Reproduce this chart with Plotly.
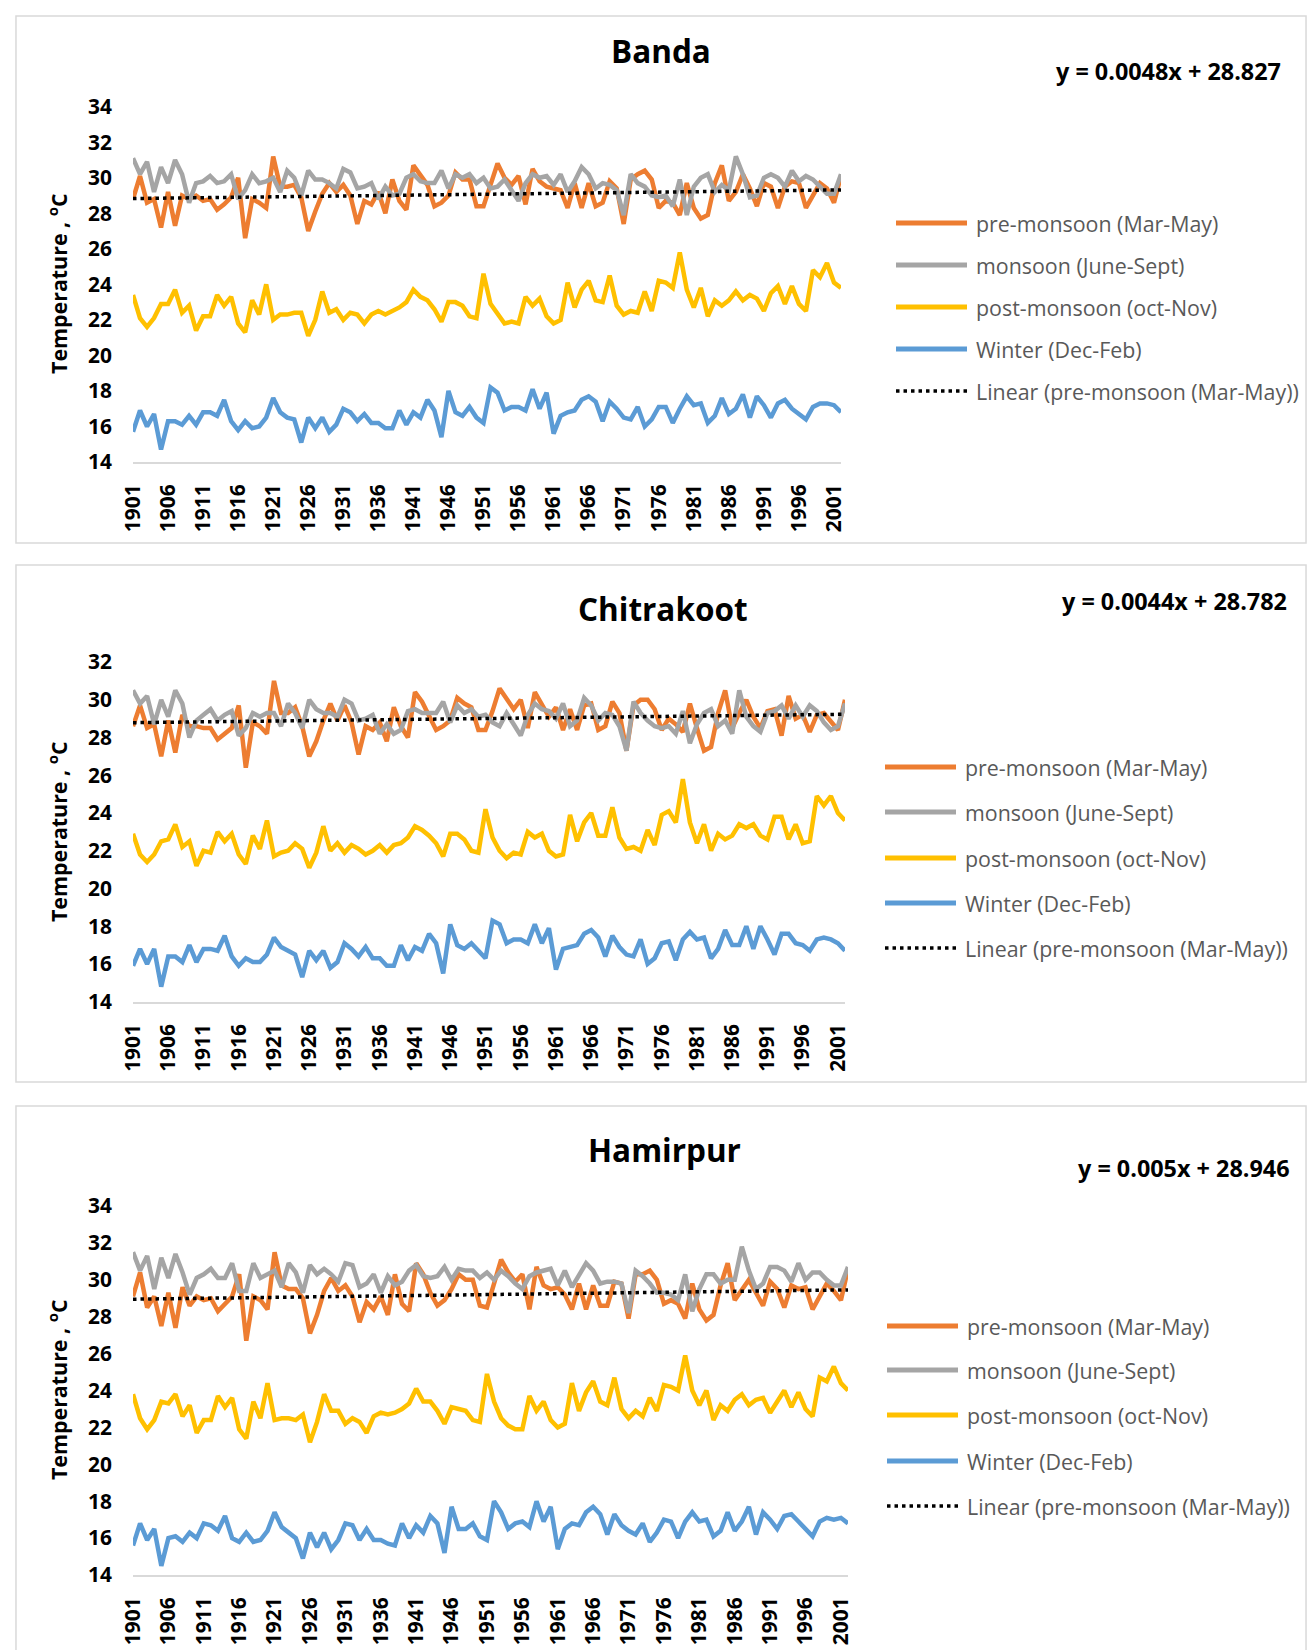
import plotly.graph_objects as go

W, H = 1313, 1650

years = list(range(1901, 2003))
x_tick_years = list(range(1901, 2002, 5))
x_tick_text = [str(y) for y in x_tick_years]

districts = ["Banda", "Chitrakoot", "Hamirpur"]
series_names = ["pre-monsoon (Mar-May)", "monsoon (June-Sept)",
                "post-monsoon (oct-Nov)", "Winter (Dec-Feb)"]
trend_name = "Linear (pre-monsoon (Mar-May))"
trend_slope = [0.0048, 0.0044, 0.005]
trend_intercept = [28.827, 28.782, 28.946]
y_tick_vals = [list(range(14, 35, 2)), list(range(14, 33, 2)), list(range(14, 35, 2))]

# ---------------- Banda ----------------
banda_pre = [28.8, 30.1, 28.6, 28.8, 27.2, 29.2, 27.3, 29.0, 28.8, 29.0,
             28.7, 28.8, 28.2, 28.5, 28.9, 30.0, 26.6, 28.8, 28.6, 28.3,
             31.2, 29.5, 29.5, 29.6, 28.9, 27.0, 28.1, 29.1, 29.7, 29.2,
             29.6, 29.0, 27.4, 28.7, 28.5, 29.2, 28.0, 29.9, 28.7, 28.2,
             30.7, 30.2, 29.6, 28.4, 28.6, 29.0, 30.3, 29.9, 29.9, 28.4,
             28.4, 29.6, 30.8, 30.0, 29.6, 30.1, 28.5, 30.5, 29.8, 29.5,
             29.4, 29.3, 28.3, 29.7, 28.3, 29.7, 28.4, 28.6, 29.8, 29.4,
             27.4, 29.9, 30.2, 30.4, 29.9, 28.3, 28.7, 28.6, 27.9, 29.7,
             28.3, 27.7, 27.9, 29.7, 30.7, 28.7, 29.2, 30.2, 29.4, 28.4,
             29.7, 29.5, 28.3, 29.5, 29.8, 29.7, 28.3, 29.0, 29.7, 29.4,
             28.6, 30.1]
banda_mon = [31.1, 30.2, 30.9, 29.2, 30.6, 29.7, 31.0, 30.2, 28.6, 29.7,
             29.8, 30.1, 29.7, 29.8, 30.2, 28.8, 29.3, 30.2, 29.7, 29.8,
             30.0, 29.2, 30.4, 30.0, 29.0, 30.4, 29.9, 29.9, 29.7, 29.4,
             30.5, 30.3, 29.4, 29.5, 29.7, 28.8, 29.5, 29.0, 29.1, 30.0,
             30.2, 29.8, 29.7, 29.7, 30.4, 29.4, 30.2, 30.0, 30.2, 29.7,
             30.0, 29.4, 29.5, 29.9, 29.3, 28.7, 29.7, 30.2, 30.0, 30.1,
             29.6, 30.2, 29.2, 29.8, 30.6, 30.2, 29.4, 29.7, 29.6, 29.3,
             27.9, 30.2, 29.7, 29.5, 29.0, 28.9, 29.0, 28.4, 29.9, 27.9,
             29.5, 30.0, 30.2, 29.2, 29.6, 29.3, 31.2, 30.2, 28.9, 29.0,
             30.0, 30.2, 30.0, 29.5, 30.4, 29.8, 30.1, 29.9, 29.5, 29.1,
             29.1, 30.2]
banda_post = [23.4, 22.1, 21.6, 22.1, 22.9, 22.9, 23.7, 22.4, 22.8, 21.4,
              22.2, 22.2, 23.4, 22.8, 23.3, 21.8, 21.3, 23.1, 22.3, 24.0,
              22.0, 22.3, 22.3, 22.4, 22.4, 21.1, 22.0, 23.6, 22.4, 22.6,
              22.0, 22.4, 22.3, 21.8, 22.3, 22.5, 22.3, 22.5, 22.7, 23.0,
              23.7, 23.3, 23.1, 22.6, 21.9, 23.0, 23.0, 22.8, 22.2, 22.1,
              24.6, 22.9, 22.3, 21.8, 21.9, 21.8, 23.3, 22.8, 23.2, 22.2,
              21.8, 22.0, 24.1, 22.7, 23.7, 24.2, 23.1, 23.0, 24.5, 22.8,
              22.3, 22.5, 22.4, 23.6, 22.5, 24.2, 24.1, 23.8, 25.8, 23.7,
              22.7, 23.8, 22.2, 23.1, 22.8, 23.1, 23.6, 23.1, 23.4, 23.2,
              22.5, 23.5, 23.9, 22.9, 23.9, 22.9, 22.5, 24.8, 24.4, 25.2,
              24.1, 23.8]
banda_win = [15.7, 16.9, 16.0, 16.7, 14.7, 16.3, 16.3, 16.1, 16.6, 16.1,
             16.8, 16.8, 16.6, 17.5, 16.3, 15.8, 16.3, 15.9, 16.0, 16.5,
             17.6, 16.8, 16.5, 16.4, 15.1, 16.5, 15.9, 16.5, 15.7, 16.1,
             17.0, 16.8, 16.3, 16.7, 16.2, 16.2, 15.9, 15.9, 16.9, 16.1,
             16.8, 16.5, 17.5, 16.9, 15.4, 18.0, 16.8, 16.6, 17.1, 16.5,
             16.2, 18.2, 17.9, 16.9, 17.1, 17.1, 16.9, 18.1, 17.0, 17.9,
             15.6, 16.6, 16.8, 16.9, 17.5, 17.7, 17.4, 16.3, 17.4, 17.0,
             16.5, 16.4, 17.1, 16.0, 16.4, 17.1, 17.1, 16.2, 17.0, 17.7,
             17.2, 17.3, 16.2, 16.6, 17.6, 16.7, 17.0, 17.8, 16.5, 17.7,
             17.2, 16.5, 17.3, 17.5, 17.0, 16.7, 16.4, 17.1, 17.3, 17.3,
             17.2, 16.8]

# ---------------- Chitrakoot ----------------
chitrakoot_pre = [28.6, 29.7, 28.5, 28.7, 27.0, 28.9, 27.2, 29.2, 28.6, 28.6,
                  28.5, 28.5, 27.9, 28.2, 28.5, 29.7, 26.4, 28.8, 28.6, 28.2,
                  31.0, 29.3, 29.3, 29.6, 28.6, 27.0, 27.8, 28.9, 29.8, 28.9,
                  29.7, 28.8, 27.1, 28.6, 28.4, 28.8, 27.8, 29.6, 28.6, 28.0,
                  30.4, 29.9, 29.2, 28.4, 28.6, 28.9, 30.1, 29.8, 29.6, 28.4,
                  28.4, 29.4, 30.6, 30.0, 29.5, 30.0, 28.5, 30.4, 29.7, 29.1,
                  29.6, 28.4, 29.5, 28.4, 29.7, 29.8, 28.4, 28.6, 29.9, 29.3,
                  27.3, 29.7, 30.0, 30.0, 29.5, 28.4, 29.0, 28.7, 28.3, 29.8,
                  28.5, 27.3, 27.5, 29.3, 30.5, 28.5, 29.3, 30.0, 29.1, 28.5,
                  29.4, 29.5, 28.1, 30.2, 29.0, 29.2, 28.3, 29.2, 29.3, 28.8,
                  28.4, 30.0]
chitrakoot_mon = [30.5, 29.8, 30.2, 28.7, 30.0, 29.1, 30.5, 29.8, 28.0, 28.9,
                  29.2, 29.5, 28.9, 29.2, 29.4, 28.1, 28.5, 29.3, 29.1, 29.3,
                  29.3, 28.6, 29.8, 29.3, 28.5, 30.0, 29.5, 29.3, 29.3, 29.1,
                  30.0, 29.8, 28.9, 29.0, 29.2, 28.2, 28.7, 28.2, 28.4, 29.4,
                  29.5, 29.3, 29.3, 29.3, 29.9, 28.8, 29.7, 29.3, 29.5, 29.1,
                  29.2, 28.8, 28.6, 29.3, 28.7, 28.1, 29.2, 29.8, 29.5, 29.4,
                  29.0, 29.8, 28.6, 28.9, 30.1, 29.7, 28.9, 29.3, 29.2, 28.6,
                  27.3, 29.9, 29.3, 28.9, 28.6, 28.5, 28.6, 28.2, 29.4, 27.7,
                  28.7, 29.3, 29.5, 28.6, 28.9, 28.2, 30.5, 29.1, 28.6, 28.3,
                  29.3, 29.4, 29.7, 29.0, 29.7, 29.1, 29.7, 29.4, 28.8, 28.4,
                  28.6, 29.8]
chitrakoot_post = [22.9, 21.8, 21.4, 21.8, 22.5, 22.6, 23.4, 22.2, 22.5, 21.2,
                   22.0, 21.9, 23.0, 22.5, 22.9, 21.8, 21.3, 22.8, 22.1, 23.6,
                   21.7, 21.9, 22.0, 22.4, 22.1, 21.1, 21.9, 23.3, 22.0, 22.4,
                   21.9, 22.3, 22.1, 21.8, 22.0, 22.3, 21.9, 22.3, 22.4, 22.7,
                   23.3, 23.1, 22.8, 22.4, 21.7, 22.9, 22.9, 22.6, 22.0, 21.9,
                   24.2, 22.7, 22.0, 21.6, 21.9, 21.8, 23.0, 22.7, 22.9, 22.0,
                   21.7, 21.8, 23.9, 22.5, 23.5, 24.0, 22.8, 22.8, 24.3, 22.7,
                   22.1, 22.2, 22.0, 23.1, 22.3, 23.9, 24.1, 23.5, 25.8, 23.5,
                   22.4, 23.4, 22.0, 22.9, 22.6, 22.8, 23.4, 23.2, 23.4, 22.8,
                   22.6, 23.8, 23.8, 22.6, 23.4, 22.4, 22.5, 24.9, 24.4, 24.9,
                   24.0, 23.6]
chitrakoot_win = [15.9, 16.8, 16.0, 16.8, 14.8, 16.4, 16.4, 16.1, 17.0, 16.1,
                  16.8, 16.8, 16.7, 17.5, 16.4, 15.9, 16.3, 16.1, 16.1, 16.5,
                  17.4, 16.9, 16.7, 16.5, 15.3, 16.7, 16.2, 16.7, 15.8, 16.1,
                  17.1, 16.8, 16.4, 16.9, 16.3, 16.3, 15.9, 15.9, 17.0, 16.2,
                  16.9, 16.7, 17.6, 17.1, 15.5, 18.1, 17.0, 16.8, 17.1, 16.7,
                  16.3, 18.3, 18.1, 17.1, 17.3, 17.3, 17.1, 18.1, 17.1, 17.9,
                  15.7, 16.8, 16.9, 17.0, 17.6, 17.8, 17.4, 16.4, 17.5, 16.9,
                  16.5, 16.4, 17.3, 16.0, 16.3, 17.1, 17.2, 16.2, 17.3, 17.7,
                  17.3, 17.4, 16.3, 16.8, 17.8, 17.0, 17.0, 18.0, 16.8, 18.0,
                  17.3, 16.5, 17.6, 17.6, 17.1, 17.0, 16.7, 17.3, 17.4, 17.3,
                  17.1, 16.7]

# ---------------- Hamirpur ----------------
hamirpur_pre = [29.1, 30.4, 28.5, 29.1, 27.5, 29.3, 27.4, 29.6, 28.6, 29.1,
                28.9, 29.0, 28.3, 28.7, 29.1, 30.3, 26.7, 29.1, 28.9, 28.4,
                31.5, 29.7, 29.5, 29.5, 29.0, 27.1, 28.1, 29.4, 30.1, 29.4,
                29.7, 29.1, 27.7, 28.8, 28.4, 29.1, 28.1, 30.3, 28.7, 28.3,
                30.9, 30.3, 29.3, 28.6, 28.9, 29.5, 30.3, 30.0, 30.0, 28.6,
                28.5, 29.8, 31.1, 30.4, 29.9, 30.3, 28.4, 30.7, 29.7, 29.5,
                29.6, 29.2, 28.4, 29.8, 28.4, 29.7, 28.6, 28.6, 29.9, 29.8,
                27.9, 30.3, 30.3, 30.5, 30.0, 28.7, 28.9, 28.7, 27.9, 29.8,
                28.4, 27.8, 28.1, 29.7, 30.9, 28.9, 29.5, 30.0, 29.3, 28.6,
                29.9, 29.5, 28.5, 29.7, 29.5, 29.6, 28.4, 29.1, 29.8, 29.4,
                28.9, 30.6]
hamirpur_mon = [31.5, 30.5, 31.3, 29.5, 31.2, 30.1, 31.4, 30.4, 29.2, 30.1,
                30.3, 30.6, 30.1, 30.1, 30.9, 29.4, 29.4, 30.9, 30.1, 30.3,
                30.5, 29.6, 30.9, 30.4, 29.3, 30.8, 30.3, 30.6, 30.3, 29.9,
                30.9, 30.8, 29.6, 29.8, 30.3, 29.3, 30.2, 29.7, 29.9, 30.5,
                30.8, 30.2, 30.1, 30.2, 30.7, 30.0, 30.6, 30.5, 30.5, 30.1,
                30.4, 30.0, 30.5, 30.2, 29.8, 29.5, 30.2, 30.4, 30.5, 30.6,
                29.7, 30.5, 29.6, 30.2, 30.9, 30.5, 29.8, 29.9, 29.9, 29.8,
                28.2, 30.5, 30.2, 29.8, 29.3, 29.3, 29.2, 28.9, 30.3, 28.3,
                29.5, 30.3, 30.3, 29.8, 30.0, 30.0, 31.8, 30.5, 29.5, 29.8,
                30.7, 30.7, 30.5, 29.9, 30.9, 30.0, 30.4, 30.4, 30.0, 29.7,
                29.7, 30.7]
hamirpur_post = [23.8, 22.5, 21.9, 22.4, 23.4, 23.3, 23.8, 22.6, 23.2, 21.7,
                 22.4, 22.4, 23.7, 23.1, 23.6, 21.9, 21.4, 23.4, 22.5, 24.4,
                 22.4, 22.5, 22.5, 22.4, 22.7, 21.2, 22.3, 23.8, 22.9, 22.9,
                 22.2, 22.5, 22.3, 21.7, 22.6, 22.8, 22.7, 22.8, 23.0, 23.3,
                 24.1, 23.4, 23.4, 22.9, 22.2, 23.1, 23.0, 22.9, 22.4, 22.3,
                 24.9, 23.4, 22.5, 22.1, 21.9, 21.9, 23.7, 22.9, 23.4, 22.4,
                 22.0, 22.2, 24.4, 22.9, 23.9, 24.5, 23.4, 23.2, 24.7, 23.0,
                 22.5, 22.9, 22.6, 23.6, 22.9, 24.3, 24.2, 24.0, 25.9, 24.0,
                 23.2, 24.0, 22.4, 23.2, 22.9, 23.5, 23.8, 23.2, 23.5, 23.6,
                 22.8, 23.4, 24.0, 23.1, 23.9, 23.0, 22.6, 24.7, 24.5, 25.3,
                 24.4, 24.0]
hamirpur_win = [15.6, 16.8, 15.9, 16.5, 14.5, 16.0, 16.1, 15.8, 16.3, 16.0,
                16.8, 16.7, 16.4, 17.2, 16.0, 15.8, 16.3, 15.8, 15.9, 16.4,
                17.4, 16.6, 16.3, 16.0, 14.9, 16.3, 15.5, 16.3, 15.4, 15.9,
                16.8, 16.7, 15.9, 16.5, 15.9, 15.9, 15.7, 15.6, 16.8, 16.0,
                16.7, 16.3, 17.2, 16.8, 15.2, 17.7, 16.5, 16.5, 16.8, 16.1,
                15.9, 18.0, 17.4, 16.5, 16.8, 16.9, 16.6, 18.0, 16.9, 17.7,
                15.4, 16.5, 16.8, 16.7, 17.4, 17.7, 17.3, 16.2, 17.3, 16.7,
                16.4, 16.2, 16.8, 15.8, 16.3, 17.0, 16.9, 16.0, 16.9, 17.4,
                16.9, 17.0, 16.1, 16.4, 17.4, 16.4, 16.9, 17.7, 16.2, 17.4,
                17.0, 16.5, 17.2, 17.3, 16.9, 16.5, 16.1, 16.9, 17.1, 17.0,
                17.1, 16.8]

panel_data = [
    [banda_pre, banda_mon, banda_post, banda_win],
    [chitrakoot_pre, chitrakoot_mon, chitrakoot_post, chitrakoot_win],
    [hamirpur_pre, hamirpur_mon, hamirpur_post, hamirpur_win],
]

# ---------------- styling / layout (target pixel positions) ----------------
colors = ["#ED7D31", "#A5A5A5", "#FFC000", "#5B9BD5"]
FONT = "Open Sans"
DOT = "3.5px,4px"

layout_px = [
    dict(plot=(130, 838, 106.7, 462), box=(7, 1309, 7, 543), title=(658, 50),
         eq=(1280, 71), ytitle=(54, 284), leg_x=(893, 964, 971),
         leg_y=[223, 265, 307, 349, 391]),
    dict(plot=(130, 842, 662, 1001.7), box=(7, 1312, 565, 1082), title=(660, 608),
         eq=(1286, 601), ytitle=(54, 832), leg_x=(882, 953, 960),
         leg_y=[767, 812, 858, 903, 948]),
    dict(plot=(130, 845, 1206, 1575), box=(7, 1312, 1106, 1665), title=(661, 1149),
         eq=(1289, 1168), ytitle=(54, 1390), leg_x=(884, 955, 962),
         leg_y=[1326, 1370, 1415, 1461, 1506]),
]

# the photographed page comes out slightly shrunk and offset; pre-compensate
SX, OX = 0.984, 12.0
SY, OY = 0.983, 15.0
FS = 1.0 / SY


def px(x):
    return min(max((x - OX) / SX, 1.0), W - 1.0) / W


def py(y):
    return 1 - min(max((y - OY) / SY, 1.0), H + 20.0) / H


fig = go.Figure()
annotations = []
shapes = []
layout_axes = {}

for p in range(3):
    L = layout_px[p]
    sfx = "" if p == 0 else str(p + 1)
    xa, ya = "x" + sfx, "y" + sfx

    for s in range(4):
        fig.add_trace(go.Scatter(
            x=years, y=panel_data[p][s], mode="lines", name=series_names[s],
            line=dict(color=colors[s], width=4.5), xaxis=xa, yaxis=ya,
            showlegend=False, hoverinfo="x+y+name"))
    trend = [trend_slope[p] * (k + 1) + trend_intercept[p] for k in range(len(years))]
    fig.add_trace(go.Scatter(
        x=years, y=trend, mode="lines", name=trend_name,
        line=dict(color="black", width=3.5, dash=DOT), xaxis=xa, yaxis=ya,
        showlegend=False, hoverinfo="skip"))

    x0, x1, y0, y1 = L["plot"]
    layout_axes["xaxis" + sfx] = dict(
        domain=[px(x0), px(x1)], anchor=ya, range=[years[0], years[-1]],
        tickmode="array", tickvals=x_tick_years, ticktext=x_tick_text,
        tickangle=-90,
        tickfont=dict(family=FONT, size=round(20.5 * FS, 1), color="black", weight="bold"),
        showgrid=False, zeroline=False, showline=True, linecolor="#D9D9D9",
        linewidth=2, ticks="", ticklabelstandoff=12, fixedrange=True)
    yt = y_tick_vals[p]
    layout_axes["yaxis" + sfx] = dict(
        domain=[py(y1), py(y0)], anchor=xa, range=[yt[0], yt[-1]],
        tickmode="array", tickvals=yt, ticktext=[str(v) for v in yt],
        tickfont=dict(family=FONT, size=round(20.5 * FS, 1), color="black", weight="bold"),
        showgrid=False, zeroline=False, showline=False, ticks="",
        ticklabelstandoff=20, fixedrange=True)

    bx0, bx1, by0, by1 = L["box"]
    shapes.append(dict(type="rect", xref="paper", yref="paper",
                       x0=px(bx0), x1=px(bx1), y0=py(by1), y1=py(by0),
                       line=dict(color="#D9D9D9", width=1.5), layer="below"))

    annotations.append(dict(text="<b>%s</b>" % districts[p], xref="paper", yref="paper",
                            x=px(L["title"][0]), y=py(L["title"][1]),
                            xanchor="center", yanchor="middle", showarrow=False,
                            font=dict(family=FONT, size=round(31 * FS, 1), color="black")))
    eq_text = "<b>y = %gx + %g</b>" % (trend_slope[p], trend_intercept[p])
    annotations.append(dict(text=eq_text, xref="paper", yref="paper",
                            x=px(L["eq"][0]), y=py(L["eq"][1]),
                            xanchor="right", yanchor="middle", showarrow=False,
                            font=dict(family=FONT, size=round(23 * FS, 1), color="black")))
    annotations.append(dict(text="<b>Temperature , <sup>o</sup>C</b>", xref="paper",
                            yref="paper", x=px(L["ytitle"][0]), y=py(L["ytitle"][1]),
                            xanchor="center", yanchor="middle", textangle=-90,
                            showarrow=False,
                            font=dict(family=FONT, size=round(21 * FS, 1), color="black")))

    lx0, lx1, ltx = L["leg_x"]
    leg_names = series_names + [trend_name]
    for k, ly in enumerate(L["leg_y"]):
        if k < 4:
            ln = dict(color=colors[k], width=5)
        else:
            ln = dict(color="black", width=3.5, dash=DOT)
        shapes.append(dict(type="line", xref="paper", yref="paper",
                           x0=px(lx0), x1=px(lx1), y0=py(ly), y1=py(ly), line=ln))
        annotations.append(dict(text=leg_names[k], xref="paper", yref="paper",
                                x=px(ltx), y=py(ly), xanchor="left", yanchor="middle",
                                showarrow=False,
                                font=dict(family=FONT, size=round(21 * FS, 1),
                                          color="#595959")))

fig.update_layout(
    width=W, height=H, margin=dict(l=0, r=0, t=0, b=0),
    paper_bgcolor="white", plot_bgcolor="white", showlegend=False,
    annotations=annotations, shapes=shapes, **layout_axes)

page_fix = ("document.documentElement.style.margin='0';"
            "document.documentElement.style.padding='0';"
            "document.documentElement.style.overflow='hidden';"
            "document.body.style.margin='0';document.body.style.padding='0';"
            "document.body.style.overflow='hidden';")

fig.write_html("out.html", post_script=page_fix,
               config={"displayModeBar": False, "staticPlot": True})
